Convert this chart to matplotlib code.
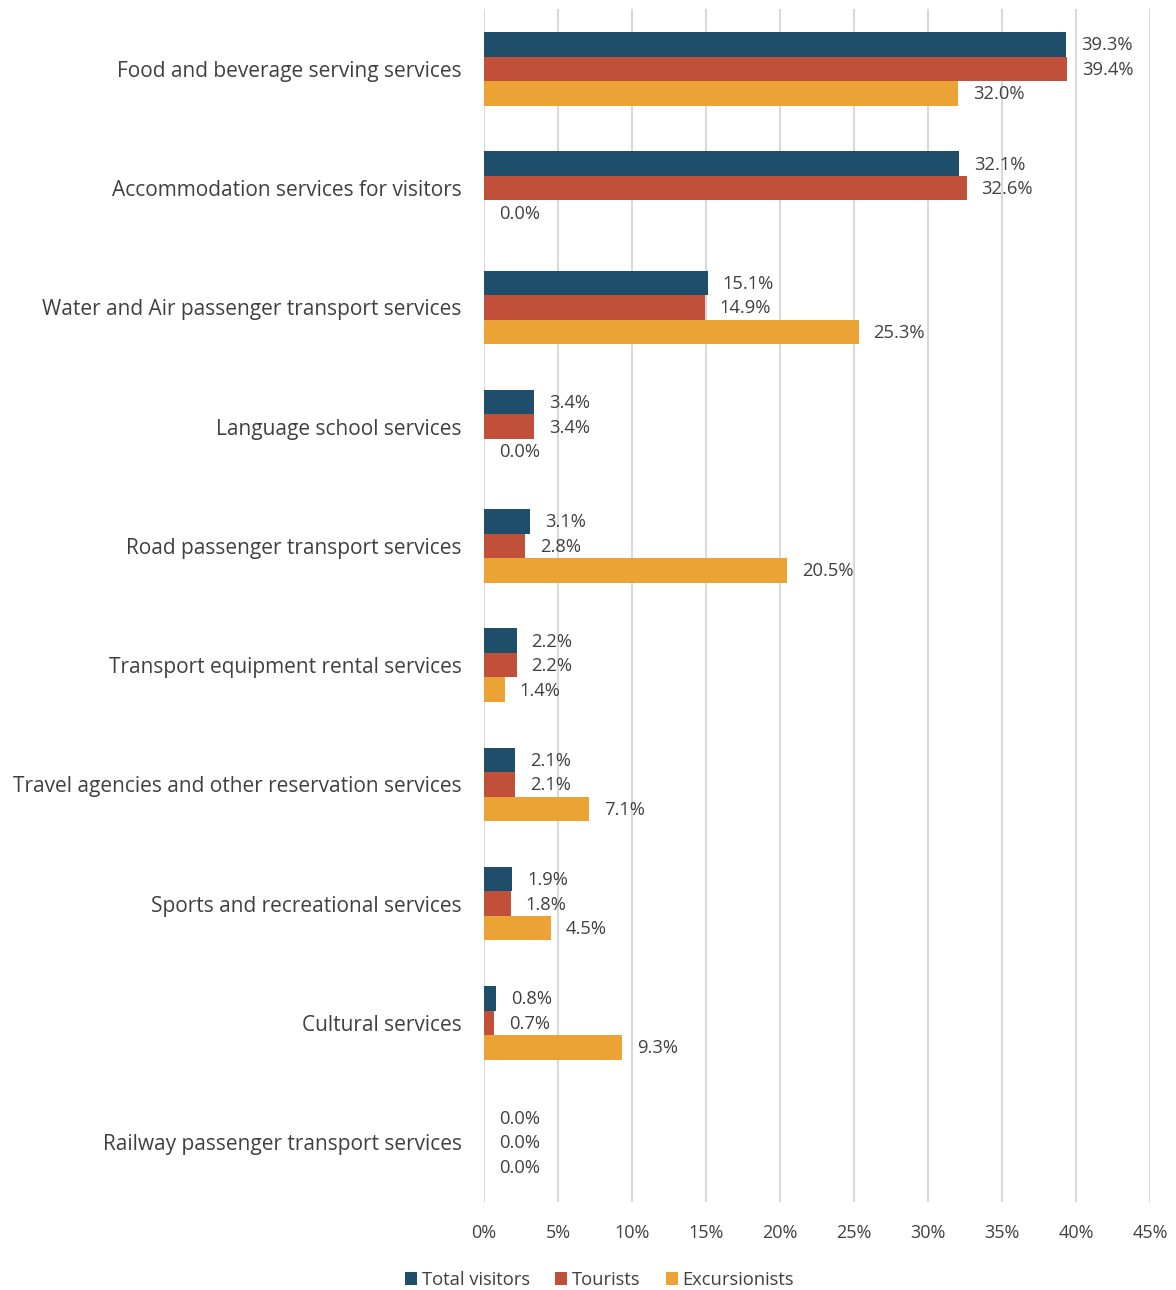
import matplotlib
matplotlib.use("Agg")
import matplotlib.pyplot as plt
from matplotlib.ticker import FuncFormatter, MultipleLocator
import numpy as np

plt.rcParams['font.family'] = ['Open Sans', 'DejaVu Sans']

categories = [
    "Food and beverage serving services",
    "Accommodation services for visitors",
    "Water and Air passenger transport services",
    "Language school services",
    "Road passenger transport services",
    "Transport equipment rental services",
    "Travel agencies and other reservation services",
    "Sports and recreational services",
    "Cultural services",
    "Railway passenger transport services",
]
total_visitors = [39.3, 32.1, 15.1, 3.4, 3.1, 2.2, 2.1, 1.9, 0.8, 0.0]
tourists = [39.4, 32.6, 14.9, 3.4, 2.8, 2.2, 2.1, 1.8, 0.7, 0.0]
excursionists = [32.0, 0.0, 25.3, 0.0, 20.5, 1.4, 7.1, 4.5, 9.3, 0.0]

series = [
    ("Total visitors", total_visitors, "#1F4E6B"),
    ("Tourists", tourists, "#C0503A"),
    ("Excursionists", excursionists, "#EBA335"),
]

text_color = "#404040"
fig = plt.figure(figsize=(11.76, 12.90), dpi=100)
ax = fig.add_axes([0.4116, 0.0684, 0.978 - 0.4116, 0.9928 - 0.0684])

n = len(categories)
y = np.arange(n)
h = 0.205
for i, (name, vals, col) in enumerate(series):
    pos = y + (i - 1) * h
    ax.barh(pos, vals, height=h, color=col, label=name, zorder=2)
    for p, v in zip(pos, vals):
        ax.annotate(f"{v:.1f}%", (v, p), xytext=(15, -1), textcoords="offset pixels",
                    va="center", ha="left", fontsize=13.2, color=text_color)

ax.set_ylim(n - 0.5, -0.5)
ax.set_xlim(0, 45)
ax.xaxis.set_major_locator(MultipleLocator(5))
ax.xaxis.set_major_formatter(FuncFormatter(lambda v, _: f"{v:.0f}%"))
ax.set_yticks(y)
ax.set_yticklabels(categories, fontsize=15, color=text_color)
ax.tick_params(axis='x', labelsize=13, colors=text_color, length=0, pad=16)
ax.tick_params(axis='y', length=0, pad=16)
ax.grid(axis='x', color="#D9D9D9", linewidth=1.5, zorder=0)
for s in ax.spines.values():
    s.set_visible(False)

handles, labels = ax.get_legend_handles_labels()
fig.legend(handles, labels, loc="center", bbox_to_anchor=(0.51, 0.0078), ncol=3,
           frameon=False, fontsize=13.2, handlelength=0.65, handleheight=0.65,
           handletextpad=0.25, columnspacing=1.4, labelcolor=text_color)

fig.savefig("out.png", dpi=100)
